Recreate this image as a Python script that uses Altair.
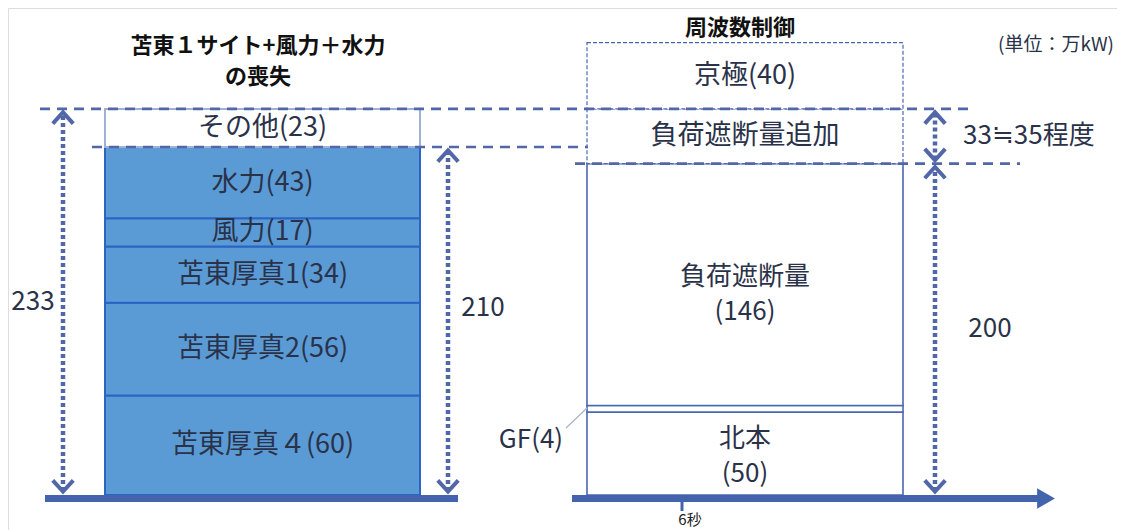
import altair as alt
import pandas as pd

# ---------------- data ----------------
left_labels = ["苫東厚真４(60)", "苫東厚真2(56)", "苫東厚真1(34)", "風力(17)", "水力(43)", "その他(23)"]
left_values = [60, 56, 34, 17, 43, 23]

right_labels = ["北本\n(50)", "", "負荷遮断量\n(146)", "負荷遮断量追加", "京極(40)"]
right_values = [50, 4, 146, 33, 40]
right_dashed = [False, False, False, True, True]
gf_label = "GF(4)"

extra_label = "33≒35程度"
title_left_1 = "苫東１サイト+風力＋水力"
title_left_2 = "の喪失"
title_right = "周波数制御"
unit_label = "(単位：万kW)"
time_label = "6秒"

# ---------------- layout ----------------
PX = 1.657          # pixels per unit
BASE = 495          # page y of value 0
TOP = 8
W, H = 1109, 522
def u(px):
    return px / PX

TXT = "#2a3249"
LINE = "#5167a8"
AXIS = "#4463ad"
BLUE = "#5b9bd5"
BLUE_EDGE = "#2a64c4"
RBOX = "#4a67b0"
FONT = "Noto Sans CJK JP"
LH = 35

x_scale = alt.Scale(domain=[TOP, TOP + W], nice=False, zero=False)
y_scale = alt.Scale(domain=[-(TOP + H - BASE) / PX, (BASE - TOP) / PX], nice=False, zero=False)
X = lambda f: alt.X(f, type="quantitative", scale=x_scale, axis=None)
Y = lambda f: alt.Y(f, type="quantitative", scale=y_scale, axis=None)

LX0, LX1 = 105, 420
RX0, RX1 = 587, 903

# left stack
ldf = pd.DataFrame({"label": left_labels, "value": left_values})
ldf["y1"] = ldf["value"].cumsum()
ldf["y0"] = ldf["y1"] - ldf["value"]
ldf["ym"] = (ldf["y0"] + ldf["y1"]) / 2
ldf["x0"], ldf["x1"], ldf["xm"] = LX0, LX1, (LX0 + LX1) / 2
ldf["fill"] = [BLUE] * 5 + ["#ffffff"]
ldf["stroke"] = [BLUE_EDGE] * 5 + ["#9fb2d6"]

rdf = pd.DataFrame({"label": right_labels, "value": right_values, "dashed": right_dashed})
rdf["y1"] = rdf["value"].cumsum()
rdf["y0"] = rdf["y1"] - rdf["value"]
rdf["ym"] = (rdf["y0"] + rdf["y1"]) / 2
rdf["x0"], rdf["x1"], rdf["xm"] = RX0, RX1, (RX0 + RX1) / 2
rdf["multi"] = rdf["label"].str.contains("\n")

total_left = int(ldf["value"].sum())          # 233
core_left = int(ldf["value"].iloc[:5].sum())  # 210
core_right = int(rdf["value"].iloc[:3].sum()) # 200
extra_top = core_right + right_values[3]      # 233

layers = []

# bars
layers.append(alt.Chart(ldf).mark_rect(strokeWidth=2).encode(
    x=X("x0"), x2="x1", y=Y("y0"), y2="y1",
    fill=alt.Fill("fill:N", scale=None), stroke=alt.Stroke("stroke:N", scale=None)))
layers.append(alt.Chart(rdf[~rdf["dashed"]]).mark_rect(fill="white", stroke=RBOX, strokeWidth=1.6).encode(
    x=X("x0"), x2="x1", y=Y("y0"), y2="y1"))
layers.append(alt.Chart(rdf[rdf["dashed"]]).mark_rect(fill="white", stroke=RBOX, strokeWidth=1.2,
                                                       strokeDash=[4, 2]).encode(
    x=X("x0"), x2="x1", y=Y("y0"), y2="y1"))

# bar labels
seg_text = dict(font=FONT, fontSize=27, color=TXT, align="center", baseline="middle")
layers.append(alt.Chart(ldf).mark_text(**seg_text).encode(x=X("xm"), y=Y("ym"), text="label:N"))
layers.append(alt.Chart(rdf[(rdf["label"] != "") & (~rdf["multi"])]).mark_text(**seg_text).encode(
    x=X("xm"), y=Y("ym"), text="label:N"))
# two-line labels: split into lines, each line placed around the segment's centre
rows = []
shift = {0: -u(3), 2: -u(10)}   # small vertical nudges (px converted to units)
for i, r in rdf[rdf["multi"]].iterrows():
    parts = r["label"].split("\n")
    for k, p in enumerate(parts):
        rows.append({"label": p, "xm": r["xm"],
                     "y": r["ym"] + shift.get(i, 0) + u(LH) * ((len(parts) - 1) / 2 - k)})
mdf = pd.DataFrame(rows)
layers.append(alt.Chart(mdf).mark_text(font=FONT, fontSize=26, color=TXT, align="center",
                                       baseline="middle").encode(x=X("xm"), y=Y("y"), text="label:N"))

# dashed level lines
hdf = pd.DataFrame({"y": [total_left, core_left, core_right],
                    "x0": [40, 92, 575], "x1": [975, 588, 1020]})
layers.append(alt.Chart(hdf).mark_rule(color=LINE, strokeWidth=2.6, strokeDash=[10, 7]).encode(
    x=X("x0"), x2="x1", y=Y("y")))

# dotted arrows
adf = pd.DataFrame({"x": [63, 448, 935, 935],
                    "lo": [0, 0, 0, core_right],
                    "hi": [total_left, core_left, core_right, extra_top]})
adf["l0"] = adf["lo"] + u(4)
adf["l1"] = adf["hi"] - u(4)
adf["up"] = adf["hi"] - u(9)
adf["dn"] = adf["lo"] + u(9)
layers.append(alt.Chart(adf).mark_rule(color=LINE, strokeWidth=4.5, strokeDash=[4, 3]).encode(
    x=X("x"), y=Y("l0"), y2="l1"))
layers.append(alt.Chart(adf).mark_point(shape="M-1,0.55L0,-0.55L1,0.55", size=420, filled=False,
                                        stroke=LINE, strokeWidth=4, opacity=1).encode(
    x=X("x"), y=Y("up")))
layers.append(alt.Chart(adf).mark_point(shape="M-1,-0.55L0,0.55L1,-0.55", size=420, filled=False,
                                        stroke=LINE, strokeWidth=4, opacity=1).encode(
    x=X("x"), y=Y("dn")))

# arrow labels
aldf = pd.DataFrame({"label": [str(total_left), str(core_left), str(core_right)],
                     "x": [33, 483, 990],
                     "y": [total_left / 2, core_left / 2 + u(13), core_right / 2]})
layers.append(alt.Chart(aldf).mark_text(font=FONT, fontSize=26, color=TXT, align="center",
                                        baseline="middle").encode(x=X("x"), y=Y("y"), text="label:N"))
exdf = pd.DataFrame({"label": [extra_label], "x": [963], "y": [(core_right + extra_top) / 2]})
layers.append(alt.Chart(exdf).mark_text(font=FONT, fontSize=26, color=TXT, align="left",
                                        baseline="middle").encode(x=X("x"), y=Y("y"), text="label:N"))

# GF label + leader
gdf = pd.DataFrame({"label": [gf_label], "x": [531], "y": [u(55)]})
layers.append(alt.Chart(gdf).mark_text(font=FONT, fontSize=26, color=TXT, align="center",
                                       baseline="middle").encode(x=X("x"), y=Y("y"), text="label:N"))
ldr = pd.DataFrame({"x0": [566], "x1": [587], "y0": [u(67)], "y1": [u(87)]})
layers.append(alt.Chart(ldr).mark_rule(color="#a9b3c6", strokeWidth=1.2).encode(
    x=X("x0"), x2="x1", y=Y("y0"), y2="y1"))

# axes
axdf = pd.DataFrame({"x0": [45, 572], "x1": [458, 1040], "y": [-u(3.5), -u(3.5)]})
layers.append(alt.Chart(axdf).mark_rule(color=AXIS, strokeWidth=7).encode(
    x=X("x0"), x2="x1", y=Y("y")))
layers.append(alt.Chart(pd.DataFrame({"x": [1046], "y": [-u(3.5)]})).mark_point(
    shape="triangle-right", size=420, filled=True, color=AXIS, opacity=1).encode(x=X("x"), y=Y("y")))
layers.append(alt.Chart(pd.DataFrame({"x": [682], "y0": [-u(6)], "y1": [-u(16)]})).mark_rule(
    color=AXIS, strokeWidth=3).encode(x=X("x"), y=Y("y0"), y2="y1"))
layers.append(alt.Chart(pd.DataFrame({"label": [time_label], "x": [690], "y": [-u(25)]})).mark_text(
    font=FONT, fontSize=15, color="#222222", align="center", baseline="middle").encode(
    x=X("x"), y=Y("y"), text="label:N"))

# titles
tdf = pd.DataFrame({"label": [title_left_1, title_left_2, title_right],
                    "x": [258, 258, 740], "y": [u(BASE - 46), u(BASE - 77), u(BASE - 28)]})
layers.append(alt.Chart(tdf).mark_text(font=FONT, fontSize=22, fontWeight="bold", color="#111111",
                                       align="center", baseline="middle").encode(
    x=X("x"), y=Y("y"), text="label:N"))
layers.append(alt.Chart(pd.DataFrame({"label": [unit_label], "x": [1056], "y": [u(BASE - 45)]})).mark_text(
    font=FONT, fontSize=19, color=TXT, align="center", baseline="middle").encode(
    x=X("x"), y=Y("y"), text="label:N"))

chart = alt.layer(*layers).properties(
    width=W, height=H, padding=0, autosize=alt.AutoSizeParams(type="none")
).configure_view(stroke=None).configure(background="white")

chart.save("out.html", embed_options={"renderer": "svg", "actions": False})
